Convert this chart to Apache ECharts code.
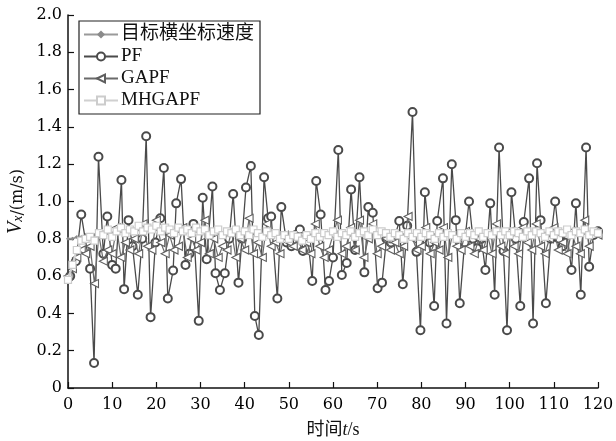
<!DOCTYPE html>
<html>
<head>
<meta charset="utf-8">
<script src="https://cdn.jsdelivr.net/npm/echarts@6/dist/echarts.min.js"></script>
<style>
  html, body { margin: 0; padding: 0; background: #fff; }
  #chart { width: 616px; height: 441px; }
</style>
</head>
<body>
<div id="chart"></div>
<script>
// 时间网格 0..120 s，每 1 s 一个采样
const timeGrid = [];
for (let t = 0; t <= 120; t++) timeGrid.push(t);

// 目标横坐标速度
const targetValues = [
  0.80,0.80,0.81,0.81,0.82,0.82,0.82,0.83,0.83,0.83,
  0.83,0.84,0.84,0.84,0.84,0.85,0.85,0.85,0.85,0.85,
  0.85,0.85,0.85,0.84,0.84,0.84,0.84,0.84,0.84,0.84,
  0.84,0.84,0.83,0.83,0.83,0.83,0.83,0.83,0.83,0.83,
  0.83,0.83,0.83,0.83,0.82,0.82,0.82,0.82,0.81,0.81,
  0.81,0.81,0.81,0.81,0.81,0.82,0.82,0.82,0.82,0.82,
  0.82,0.82,0.82,0.82,0.82,0.82,0.82,0.83,0.83,0.83,
  0.83,0.83,0.83,0.82,0.82,0.82,0.82,0.82,0.82,0.82,
  0.82,0.82,0.82,0.82,0.82,0.82,0.82,0.82,0.82,0.82,
  0.82,0.82,0.82,0.82,0.82,0.82,0.82,0.82,0.83,0.83,
  0.83,0.83,0.83,0.83,0.83,0.83,0.83,0.83,0.83,0.83,
  0.83,0.83,0.83,0.83,0.83,0.83,0.83,0.83,0.83,0.83,0.83
];

// PF 估计（时间, 速度）
const pfTimes = [
  0.5,1.8,3.0,5.0,5.9,6.9,8.0,8.9,10.0,10.8,12.1,12.7,13.7,14.6,15.8,16.8,17.7,18.7,19.8,20.9,
  21.7,22.6,23.8,24.5,25.6,26.6,27.5,28.4,29.6,30.5,31.4,32.7,33.4,34.4,35.5,36.5,37.4,38.6,39.4,40.3,
  41.4,42.3,43.2,44.4,45.3,46.0,47.4,48.3,49.5,50.6,51.6,52.5,53.2,54.3,55.3,56.2,57.2,58.3,59.1,60.0,
  61.2,62.0,63.1,64.1,65.0,66.0,67.1,68.0,69.0,70.1,71.1,72.1,73.1,74.1,75.0,75.8,76.8,78.0,78.9,79.8,
  80.8,81.9,82.9,83.6,84.9,85.7,86.9,87.8,88.7,89.8,90.8,91.7,92.6,93.6,94.5,95.6,96.6,97.6,98.6,99.4,
  100.4,101.4,102.4,103.2,104.4,105.3,106.2,107.0,108.2,109.3,110.3,111.2,112.0,113.0,114.0,115.0,116.1,117.3,118.0,119.0,120.0
];
const pfValues = [
  0.60,0.68,0.93,0.64,0.134,1.24,0.72,0.92,0.66,0.64,1.115,0.53,0.90,0.76,0.50,0.80,1.35,0.38,0.78,0.91,
  1.18,0.48,0.63,0.99,1.12,0.66,0.72,0.88,0.36,1.02,0.69,1.08,0.615,0.525,0.615,0.80,1.04,0.565,0.80,1.075,
  1.19,0.386,0.284,1.13,0.91,0.92,0.48,0.97,0.78,0.76,0.82,0.85,0.735,0.80,0.574,1.11,0.93,0.525,0.574,0.70,
  1.276,0.606,0.67,1.065,0.74,1.13,0.62,0.97,0.94,0.535,0.565,0.80,0.78,0.82,0.895,0.556,0.87,1.48,0.73,0.31,
  1.05,0.78,0.44,0.895,1.124,0.346,1.20,0.90,0.454,0.78,1.0,0.80,0.75,0.80,0.633,0.99,0.50,1.29,0.735,0.31,
  1.05,0.80,0.44,0.89,1.124,0.346,1.205,0.90,0.454,0.80,1.0,0.80,0.76,0.82,0.633,0.99,0.50,1.29,0.65,0.82,0.84
];

// GAPF
const gapfValues = [
  0.60,0.64,0.70,0.74,0.72,0.76,0.56,0.82,0.68,0.74,
  0.72,0.86,0.70,0.78,0.74,0.80,0.72,0.88,0.76,0.74,
  0.90,0.78,0.72,0.82,0.74,0.76,0.86,0.70,0.80,0.74,
  0.78,0.90,0.72,0.80,0.70,0.76,0.74,0.84,0.70,0.80,
  0.74,0.91,0.72,0.78,0.70,0.88,0.76,0.78,0.72,0.82,
  0.78,0.76,0.80,0.74,0.78,0.72,0.88,0.76,0.70,0.74,
  0.82,0.90,0.72,0.76,0.86,0.74,0.90,0.70,0.80,0.88,
  0.72,0.76,0.80,0.74,0.78,0.72,0.76,0.92,0.80,0.74,
  0.76,0.86,0.72,0.78,0.74,0.86,0.70,0.82,0.76,0.74,
  0.84,0.76,0.72,0.80,0.74,0.82,0.72,0.88,0.76,0.72,
  0.84,0.76,0.72,0.86,0.78,0.74,0.88,0.76,0.72,0.80,
  0.86,0.74,0.78,0.72,0.84,0.76,0.72,0.90,0.76,0.84,0.82
];

// MHGAPF
const mhgapfValues = [
  0.58,0.66,0.74,0.79,0.80,0.81,0.79,0.83,0.82,0.85,
  0.81,0.84,0.86,0.83,0.85,0.84,0.87,0.84,0.86,0.85,
  0.87,0.84,0.86,0.85,0.83,0.86,0.84,0.85,0.83,0.86,
  0.84,0.85,0.82,0.84,0.85,0.82,0.84,0.83,0.85,0.82,
  0.84,0.82,0.85,0.83,0.81,0.84,0.82,0.83,0.80,0.82,
  0.80,0.82,0.81,0.79,0.82,0.80,0.83,0.81,0.83,0.82,
  0.84,0.81,0.83,0.82,0.84,0.81,0.83,0.84,0.82,0.85,
  0.82,0.84,0.83,0.81,0.83,0.82,0.80,0.83,0.81,0.83,
  0.81,0.83,0.82,0.80,0.83,0.81,0.83,0.82,0.80,0.83,
  0.81,0.83,0.82,0.84,0.81,0.83,0.82,0.84,0.82,0.84,
  0.82,0.84,0.83,0.81,0.84,0.82,0.84,0.83,0.81,0.84,
  0.82,0.84,0.83,0.85,0.82,0.84,0.83,0.85,0.82,0.84,0.83
];

const seriesNames = ['目标横坐标速度', 'PF', 'GAPF', 'MHGAPF'];

function pairs(xs, ys) {
  return ys.map(function (v, i) { return [xs[i], v]; });
}

const FONT = '"Liberation Serif", "DejaVu Serif", "Noto Sans CJK SC", serif';
const NUM_FONT = '"DejaVu Serif", "Liberation Serif", serif';

let chart = echarts.init(document.getElementById('chart'), null, {renderer: 'canvas'});

let option = {
  animation: false,
  backgroundColor: '#fff',
  grid: {left: 68, right: 18, top: 15, bottom: 53, containLabel: false, outerBoundsMode: 'none'},
  legend: {
    orient: 'vertical',
    left: 79,
    top: 21,
    padding: [4, 6, 4, 4],
    itemGap: 3,
    itemWidth: 34,
    itemHeight: 10,
    borderColor: '#222',
    borderWidth: 1.2,
    textStyle: {fontFamily: FONT, fontSize: 19, color: '#111', padding: [0, 0, 0, -2]},
    data: seriesNames
  },
  xAxis: {
    type: 'value',
    min: 0, max: 120, interval: 10,
    name: '时间{i|t}/s',
    nameLocation: 'middle',
    nameGap: 33,
    nameTextStyle: {
      fontFamily: FONT, fontSize: 18, color: '#111',
      rich: {i: {fontFamily: FONT, fontStyle: 'italic', fontSize: 18, color: '#111'}}
    },
    axisLine: {lineStyle: {color: '#111', width: 1.5}},
    axisTick: {inside: true, length: 6, lineStyle: {color: '#111', width: 1.2}},
    axisLabel: {fontFamily: NUM_FONT, fontSize: 16, color: '#000', margin: 9},
    splitLine: {show: false}
  },
  yAxis: {
    type: 'value',
    min: 0, max: 2.0, interval: 0.2,
    name: '{i|V}{s|x}{n|/(m/s)}',
    nameLocation: 'middle',
    nameRotate: 90,
    nameGap: 40,
    nameTextStyle: {
      fontFamily: NUM_FONT, fontSize: 16, color: '#111',
      rich: {
        i: {fontFamily: FONT, fontStyle: 'italic', fontSize: 20, color: '#111', verticalAlign: 'bottom'},
        s: {fontFamily: FONT, fontStyle: 'italic', fontSize: 14, color: '#111', verticalAlign: 'bottom'},
        n: {fontFamily: NUM_FONT, fontSize: 16, color: '#111', verticalAlign: 'bottom'}
      }
    },
    axisLine: {show: true, lineStyle: {color: '#111', width: 1.5}},
    axisTick: {show: true, inside: true, length: 6, lineStyle: {color: '#111', width: 1.2}},
    axisLabel: {
      fontFamily: NUM_FONT, fontSize: 16, color: '#000', margin: 6,
      formatter: function (v) { return v === 0 ? '0' : v.toFixed(1); }
    },
    splitLine: {show: false}
  },
  series: [
    {
      name: seriesNames[0],
      type: 'line',
      data: pairs(timeGrid, targetValues),
      symbol: 'diamond',
      symbolSize: 4,
      lineStyle: {color: '#9a9a9a', width: 2},
      itemStyle: {color: '#8a8a8a'},
      z: 2
    },
    {
      name: seriesNames[1],
      type: 'line',
      data: pairs(pfTimes, pfValues),
      symbol: 'emptyCircle',
      symbolSize: 8,
      lineStyle: {color: '#4a4a4a', width: 1.3},
      itemStyle: {color: '#4a4a4a', borderColor: '#3a3a3a', borderWidth: 1.1},
      z: 3
    },
    {
      name: seriesNames[2],
      type: 'line',
      data: pairs(timeGrid, gapfValues),
      symbol: 'path://M0,5 L10,0 L10,10 Z',
      symbolSize: [8, 8],
      lineStyle: {color: '#6a6a6a', width: 1.2},
      itemStyle: {color: '#fff', borderColor: '#5e5e5e', borderWidth: 1.1},
      z: 4
    },
    {
      name: seriesNames[3],
      type: 'line',
      data: pairs(timeGrid, mhgapfValues),
      symbol: 'rect',
      symbolSize: 7,
      lineStyle: {color: '#d0d0d0', width: 2.2},
      itemStyle: {color: '#fff', borderColor: '#cccccc', borderWidth: 1.2},
      z: 5
    }
  ]
};

chart.setOption(option);
</script>
</body>
</html>
